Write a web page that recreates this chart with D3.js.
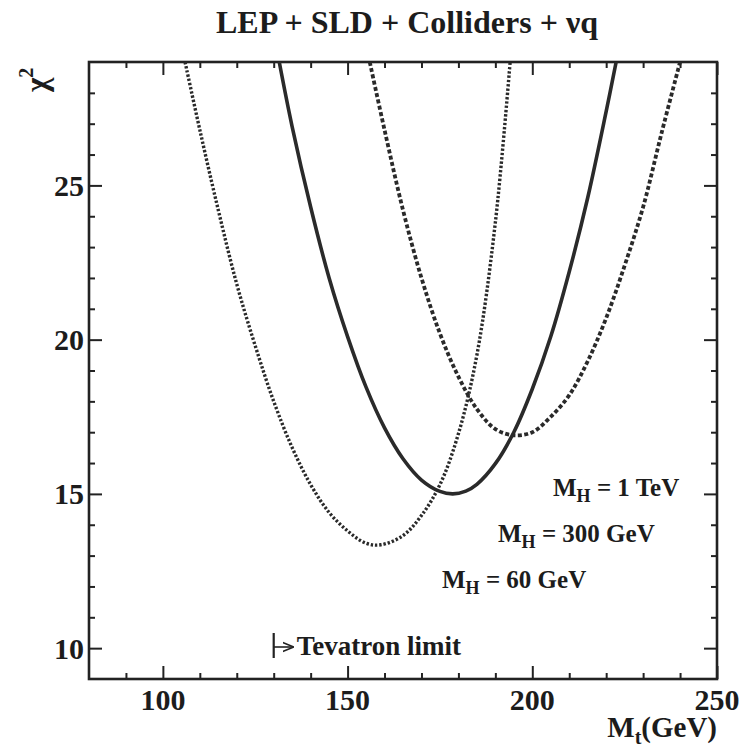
<!DOCTYPE html>
<html>
<head>
<meta charset="utf-8">
<script src="https://cdn.jsdelivr.net/npm/d3@7"></script>
<style>
body { margin: 0; background: #fff; }
text { font-family: "Liberation Serif", "Times New Roman", serif; font-weight: bold; fill: #1c1c1c; }
</style>
</head>
<body>
<div id="chart"></div>
<script>
// tick labels
var mtTicks = [100, 150, 200, 250];
var chiTicks = [10, 15, 20, 25];

// M_H = 60 GeV (fine dots)
var mt60 = [106, 110, 115, 120, 125, 130, 135, 140, 145, 150, 155, 159, 165, 170, 175, 180, 185, 190, 194];
var chi60 = [29.0, 26.8, 24.2, 21.8, 19.8, 18.0, 16.5, 15.3, 14.4, 13.8, 13.4, 13.35, 13.65, 14.3, 15.3, 16.95, 19.5, 23.8, 29.0];

// M_H = 300 GeV (solid)
var mt300 = [131.5, 135, 140, 145, 150, 155, 160, 165, 170, 175, 178.5, 182, 185, 190, 195, 200, 205, 210, 215, 220, 222.7];
var chi300 = [29.0, 26.9, 24.3, 22.0, 20.1, 18.46, 17.14, 16.14, 15.45, 15.08, 15.0, 15.09, 15.31, 15.98, 17.0, 18.4, 20.1, 22.2, 24.6, 27.4, 29.0];

// M_H = 1 TeV (dashed)
var mt1000 = [156, 160, 165, 170, 175, 180, 185, 190, 195, 200, 205, 210, 215, 220, 225, 230, 235, 240];
var chi1000 = [29.0, 26.8, 24.2, 22.0, 20.2, 18.8, 17.75, 17.1, 16.9, 17.0, 17.5, 18.2, 19.3, 20.7, 22.4, 24.3, 26.7, 29.0];

var higgsLabels = ["1 TeV", "300 GeV", "60 GeV"];
var tevatronLimit = 130;

var w = 744, h = 749;
var plotL = 89, plotR = 717, plotT = 62, plotB = 679;

var svg = d3.select("#chart").append("svg")
    .attr("width", w)
    .attr("height", h);

var x = d3.scaleLinear().domain([80, 250]).range([plotL, plotR]);
var y = d3.scaleLinear().domain([9, 29]).range([plotB, plotT]);

svg.append("clipPath").attr("id", "clip")
    .append("rect")
    .attr("x", plotL).attr("y", plotT)
    .attr("width", plotR - plotL).attr("height", plotB - plotT);

var minorX = d3.range(90, 250, 10).filter(function(d) { return d % 50 != 0; });
var minorY = d3.range(10, 29, 1).filter(function(d) { return d % 5 != 0; });
var majorX = d3.range(100, 251, 50);
var majorY = d3.range(10, 29, 5);

function ticks(axis, vals, size) {
    return axis.tickValues(vals).tickSizeInner(-size).tickSizeOuter(0).tickFormat("");
}

function addAxis(gen, tx, ty) {
    var g = svg.append("g")
        .attr("transform", "translate(" + tx + "," + ty + ")")
        .call(gen);
    g.select(".domain").remove();
    g.selectAll("line").attr("stroke", "#222").attr("stroke-width", 2);
    return g;
}

// minor and major ticks on all four sides
addAxis(ticks(d3.axisBottom(x), minorX, 6), 0, plotB);
addAxis(ticks(d3.axisBottom(x), majorX, 13), 0, plotB);
addAxis(ticks(d3.axisTop(x), minorX, 6), 0, plotT);
addAxis(ticks(d3.axisTop(x), majorX, 13), 0, plotT);
addAxis(ticks(d3.axisLeft(y), minorY, 6), plotL, 0);
addAxis(ticks(d3.axisLeft(y), majorY, 13), plotL, 0);
addAxis(ticks(d3.axisRight(y), minorY, 6), plotR, 0);
addAxis(ticks(d3.axisRight(y), majorY, 13), plotR, 0);

// tick labels
svg.append("g").selectAll("text")
    .data(mtTicks)
    .enter()
    .append("text")
    .attr("x", function(d) { return x(d); })
    .attr("y", 710)
    .attr("text-anchor", "middle")
    .attr("font-size", 30)
    .text(function(d) { return d; });

svg.append("g").selectAll("text")
    .data(chiTicks)
    .enter()
    .append("text")
    .attr("x", plotL - 5)
    .attr("y", function(d) { return y(d); })
    .attr("dy", "0.35em")
    .attr("text-anchor", "end")
    .attr("font-size", 30)
    .text(function(d) { return d; });

// frame
svg.append("rect")
    .attr("x", plotL).attr("y", plotT)
    .attr("width", plotR - plotL).attr("height", plotB - plotT)
    .attr("fill", "none")
    .attr("stroke", "#222")
    .attr("stroke-width", 2.6);

// curves
var line = d3.line()
    .x(function(d) { return x(d[0]); })
    .y(function(d) { return y(d[1]); })
    .curve(d3.curveCatmullRom.alpha(0.5));

var curves = [
    { m: mt60, c: chi60, dash: "2.4,1.9", sw: 3.4 },
    { m: mt300, c: chi300, dash: null, sw: 3.6 },
    { m: mt1000, c: chi1000, dash: "4,2.4", sw: 3.8 }
];

curves.forEach(function(cv) {
    svg.append("path")
        .datum(d3.zip(cv.m, cv.c))
        .attr("clip-path", "url(#clip)")
        .attr("fill", "none")
        .attr("stroke", "#2a2a2a")
        .attr("stroke-width", cv.sw)
        .attr("stroke-dasharray", cv.dash)
        .attr("d", line);
});

// title
svg.append("text")
    .attr("x", 407).attr("y", 33)
    .attr("text-anchor", "middle")
    .attr("font-size", 32)
    .text("LEP + SLD + Colliders + \u03bdq");

// y label chi^2
var yl = svg.append("text")
    .attr("transform", "translate(47,92) rotate(-90)")
    .attr("font-size", 31);
yl.append("tspan").text("\u03c7");
yl.append("tspan").attr("font-size", 20).attr("dy", -14).text("2");

// x label M_t(GeV)
var xl = svg.append("text")
    .attr("x", plotR).attr("y", 737)
    .attr("text-anchor", "end")
    .attr("font-size", 29);
xl.append("tspan").text("M");
xl.append("tspan").attr("font-size", 20).attr("dy", 7).text("t");
xl.append("tspan").attr("dy", -7).text("(GeV)");

// Higgs mass labels
var labelPos = [[553, 496], [498, 542], [442, 588]];
higgsLabels.forEach(function(t, i) {
    var tx = svg.append("text")
        .attr("x", labelPos[i][0]).attr("y", labelPos[i][1])
        .attr("font-size", 25);
    tx.append("tspan").text("M");
    tx.append("tspan").attr("font-size", 18).attr("dy", 6).text("H");
    tx.append("tspan").attr("dy", -6).text(" = " + t);
});

// Tevatron limit marker
var tx0 = x(tevatronLimit);
svg.append("defs").append("marker")
    .attr("id", "arr")
    .attr("viewBox", "0 0 10 10")
    .attr("refX", 9).attr("refY", 5)
    .attr("markerWidth", 7).attr("markerHeight", 7)
    .attr("orient", "auto")
    .append("path")
    .attr("d", "M0,1 L10,5 L0,9")
    .attr("fill", "none")
    .attr("stroke", "#222")
    .attr("stroke-width", 1.5);

svg.append("line")
    .attr("x1", tx0).attr("x2", tx0)
    .attr("y1", 633).attr("y2", 658)
    .attr("stroke", "#222").attr("stroke-width", 2.2);
svg.append("line")
    .attr("x1", tx0).attr("x2", tx0 + 19)
    .attr("y1", 647).attr("y2", 647)
    .attr("stroke", "#222").attr("stroke-width", 1.6)
    .attr("marker-end", "url(#arr)");
svg.append("text")
    .attr("x", tx0 + 23).attr("y", 655)
    .attr("font-size", 27)
    .text("Tevatron limit");
</script>
</body>
</html>
